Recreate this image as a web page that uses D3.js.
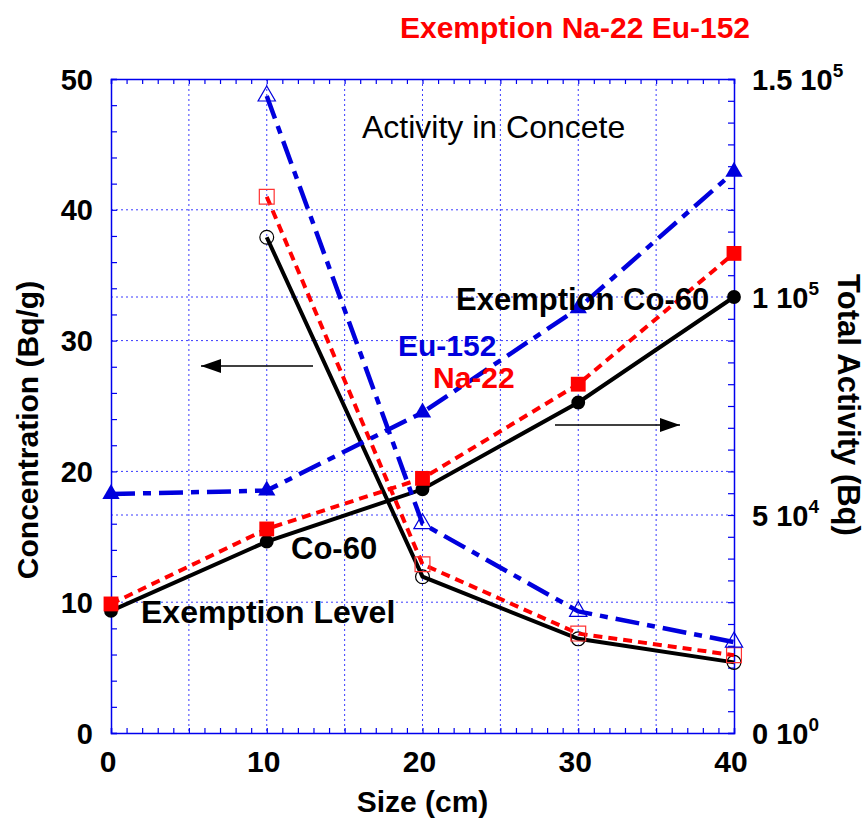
<!DOCTYPE html>
<html lang="en">
<head>
    <meta charset="UTF-8">
    <title>Activity in Concete</title>
    <script src="https://d3js.org/d3.v7.min.js"></script>
    <style>
        body {
            margin: 0;
            background: #fff;
            font-family: 'Liberation Sans', Arial, sans-serif;
        }
        svg text { font-family: 'Liberation Sans', Arial, sans-serif; }
    </style>
</head>
<body>
    <div id="chart"></div>

    <script>
        // data
        const sizes = [0, 10, 20, 30, 40];
        const concSizes = [10, 20, 30, 40];

        // concentration (Bq/g), left axis
        const concCo60 = [37.9, 11.95, 7.2, 5.4];
        const concNa22 = [41.0, 12.9, 7.6, 5.95];
        const concEu152 = [48.7, 16.0, 9.3, 6.95];

        // total activity (Bq), right axis
        const actCo60 = [28000, 43900, 55900, 75800, 100000];
        const actNa22 = [29600, 46800, 58400, 80000, 110000];
        const actEu152 = [54800, 55600, 73500, 97400, 128700];

        const xTicks = [0, 10, 20, 30, 40];
        const leftTicks = [0, 10, 20, 30, 40, 50];
        const rightTicks = [
            {v: 0, m: "0", e: "0"},
            {v: 50000, m: "5", e: "4"},
            {v: 100000, m: "1", e: "5"},
            {v: 150000, m: "1.5", e: "5"}
        ];

        const width = 867, height = 820;
        const L = 111, R = 734, T = 79, B = 733;

        const svg = d3.select("#chart").append("svg")
            .attr("width", width)
            .attr("height", height);

        const x = d3.scaleLinear().domain([0, 40]).range([L, R]);
        const yL = d3.scaleLinear().domain([0, 50]).range([B, T]);
        const yR = d3.scaleLinear().domain([0, 150000]).range([B, T]);

        const blue = "#0000ee";
        const gridColor = "#3a3aff";

        // grid
        const grid = svg.append("g").attr("stroke", gridColor).attr("stroke-width", 1)
            .attr("stroke-dasharray", "2,3");
        d3.range(5, 40, 5).forEach(v => {
            grid.append("line").attr("x1", x(v)).attr("x2", x(v)).attr("y1", T).attr("y2", B);
        });
        [10, 20, 30, 40].forEach(v => {
            grid.append("line").attr("x1", L).attr("x2", R).attr("y1", yL(v)).attr("y2", yL(v));
        });
        [50000, 100000].forEach(v => {
            grid.append("line").attr("x1", L).attr("x2", R).attr("y1", yR(v)).attr("y2", yR(v));
        });

        // axes with inward ticks
        const axBottom = svg.append("g").attr("transform", `translate(0,${B})`)
            .call(d3.axisTop(x).tickValues(d3.range(0, 41, 1)).tickSize(5).tickFormat(""));
        const axTop = svg.append("g").attr("transform", `translate(0,${T})`)
            .call(d3.axisBottom(x).tickValues(d3.range(0, 41, 1)).tickSize(5).tickFormat(""));
        const axLeft = svg.append("g").attr("transform", `translate(${L},0)`)
            .call(d3.axisRight(yL).tickValues(d3.range(0, 51, 2)).tickSize(6).tickFormat(""));
        const axRight = svg.append("g").attr("transform", `translate(${R},0)`)
            .call(d3.axisLeft(yR).tickValues(d3.range(0, 150001, 5000)).tickSize(6).tickFormat(""));
        [axBottom, axTop, axLeft, axRight].forEach(a => {
            a.select(".domain").attr("stroke", blue).attr("stroke-width", 1.5);
            a.selectAll(".tick line").attr("stroke", blue).attr("stroke-width", 1.2);
        });

        // tick labels
        svg.append("g").selectAll("text").data(xTicks).join("text")
            .attr("x", d => x(d) - 3).attr("y", 772)
            .attr("text-anchor", "middle")
            .attr("font-size", 30).attr("font-weight", "bold")
            .text(d => d);

        svg.append("g").selectAll("text").data(leftTicks).join("text")
            .attr("x", 93).attr("y", d => yL(d) + 10.5)
            .attr("text-anchor", "end")
            .attr("font-size", 29).attr("font-weight", "bold")
            .text(d => d);

        const rt = svg.append("g").selectAll("text").data(rightTicks).join("text")
            .attr("x", 752).attr("y", d => yR(d.v) + 10.5)
            .attr("font-size", 29).attr("font-weight", "bold");
        rt.append("tspan").text(d => d.m + " 10");
        rt.append("tspan").attr("dy", -13).attr("font-size", 19).text(d => d.e);

        // axis titles
        svg.append("text")
            .attr("transform", "translate(38,430) rotate(-90)")
            .attr("text-anchor", "middle")
            .attr("font-size", 30).attr("font-weight", "bold")
            .text("Concentration (Bq/g)");

        svg.append("text")
            .attr("transform", "translate(838,405) rotate(90)")
            .attr("text-anchor", "middle")
            .attr("font-size", 31).attr("font-weight", "bold")
            .text("Total Activity (Bq)");

        svg.append("text")
            .attr("x", x(20)).attr("y", 812)
            .attr("text-anchor", "middle")
            .attr("font-size", 30).attr("font-weight", "bold")
            .text("Size (cm)");

        // series
        const series = [
            {name: "Co-60", color: "#000", dash: null, width: 4, conc: concCo60, act: actCo60, shape: d3.symbolCircle, size: 150, open: "#000"},
            {name: "Na-22", color: "#ff0000", dash: "9,6", width: 4, conc: concNa22, act: actNa22, shape: d3.symbolSquare, size: 220, open: "#ff3333"},
            {name: "Eu-152", color: "#0000dd", dash: "24,8,8,8", width: 4.5, conc: concEu152, act: actEu152, shape: d3.symbolTriangle, size: 130, open: "#0000dd"}
        ];

        const lineL = d3.line().x(d => x(d[0])).y(d => yL(d[1]));
        const lineR = d3.line().x(d => x(d[0])).y(d => yR(d[1]));

        series.forEach(s => {
            const cPts = concSizes.map((v, i) => [v, s.conc[i]]);
            const aPts = sizes.map((v, i) => [v, s.act[i]]);

            svg.append("path").datum(cPts)
                .attr("d", lineL).attr("fill", "none")
                .attr("stroke", s.color).attr("stroke-width", s.width)
                .attr("stroke-dasharray", s.dash);
            svg.append("path").datum(aPts)
                .attr("d", lineR).attr("fill", "none")
                .attr("stroke", s.color).attr("stroke-width", s.width)
                .attr("stroke-dasharray", s.dash);

            svg.append("g").selectAll("path").data(cPts).join("path")
                .attr("transform", d => `translate(${x(d[0])},${yL(d[1])})`)
                .attr("d", d3.symbol().type(s.shape).size(s.size))
                .attr("fill", "none").attr("stroke", s.open).attr("stroke-width", 1.2);
            svg.append("g").selectAll("path").data(aPts).join("path")
                .attr("transform", d => `translate(${x(d[0])},${yR(d[1])})`)
                .attr("d", d3.symbol().type(s.shape).size(s.size))
                .attr("fill", s.color);
        });

        // annotations
        const notes = [
            {t: "Exemption Na-22 Eu-152", x: 575, y: 38, c: "#ff0000", w: "bold", fs: 30, a: "middle"},
            {t: "Activity in Concete", x: 362, y: 138, c: "#000", w: "normal", fs: 32, a: "start"},
            {t: "Exemption Co-60", x: 456, y: 310, c: "#000", w: "bold", fs: 31, a: "start"},
            {t: "Eu-152", x: 398, y: 356, c: "#0000dd", w: "bold", fs: 30, a: "start"},
            {t: "Na-22", x: 433, y: 388, c: "#ff0000", w: "bold", fs: 30, a: "start"},
            {t: "Co-60", x: 291, y: 559, c: "#000", w: "bold", fs: 31, a: "start"},
            {t: "Exemption Level", x: 141, y: 623, c: "#000", w: "bold", fs: 32, a: "start"}
        ];
        svg.append("g").selectAll("text").data(notes).join("text")
            .attr("x", d => d.x).attr("y", d => d.y)
            .attr("fill", d => d.c).attr("font-weight", d => d.w)
            .attr("font-size", d => d.fs)
            .attr("text-anchor", d => d.a)
            .text(d => d.t);

        // arrows
        svg.append("defs").append("marker")
            .attr("id", "head").attr("viewBox", "0 0 20 14")
            .attr("refX", 20).attr("refY", 7)
            .attr("markerWidth", 20).attr("markerHeight", 14)
            .attr("markerUnits", "userSpaceOnUse")
            .attr("orient", "auto")
            .append("path").attr("d", "M0,0L20,7L0,14Z").attr("fill", "#000");

        svg.append("line").attr("x1", 313).attr("y1", 366).attr("x2", 201).attr("y2", 366)
            .attr("stroke", "#000").attr("stroke-width", 1.3).attr("marker-end", "url(#head)");
        svg.append("line").attr("x1", 555).attr("y1", 425).attr("x2", 680).attr("y2", 425)
            .attr("stroke", "#000").attr("stroke-width", 1.3).attr("marker-end", "url(#head)");
    </script>
</body>
</html>
